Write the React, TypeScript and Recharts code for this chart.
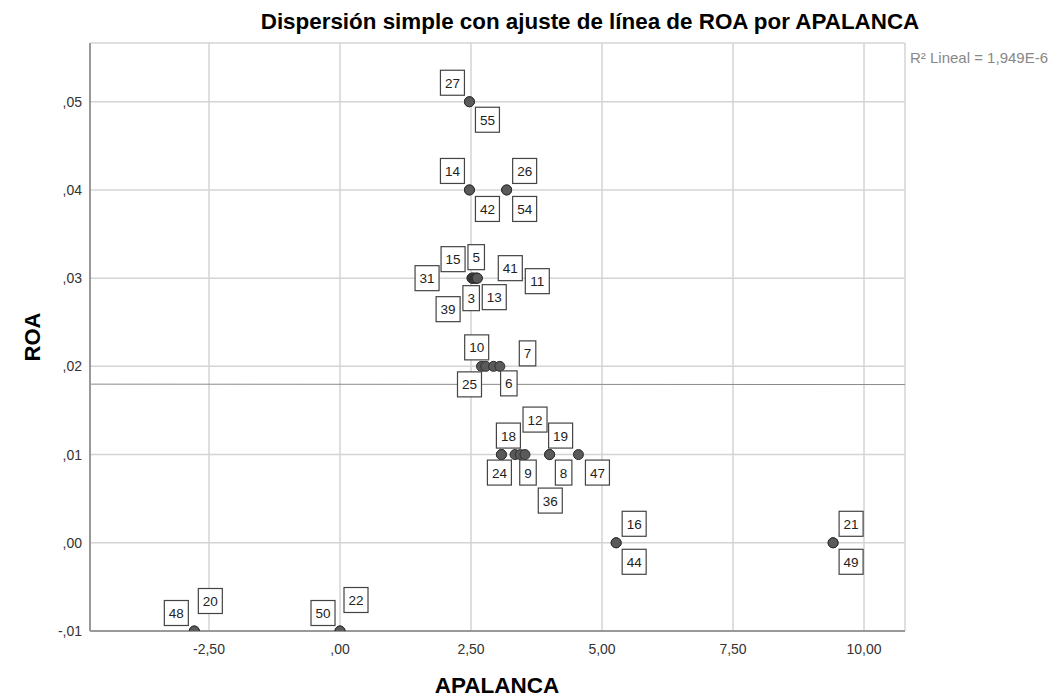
import { ScatterChart, Scatter, XAxis, YAxis, CartesianGrid, ReferenceLine } from 'recharts'

// casos (número de caso SPSS), APALANCA, ROA
const CASE_IDS = [27, 55, 14, 42, 26, 54, 15, 31, 39, 3, 5, 13, 41, 11, 25, 10, 7, 6, 24, 18, 12, 36, 9, 19, 8, 47, 16, 44, 21, 49, 48, 20, 50, 22]
const APALANCA = [2.47, 2.47, 2.47, 2.47, 3.18, 3.18, 2.52, 2.52, 2.54, 2.56, 2.58, 2.6, 2.62, 2.62, 2.7, 2.78, 2.93, 3.05, 3.08, 3.08, 3.34, 3.44, 3.53, 4.0, 4.0, 4.55, 5.27, 5.27, 9.41, 9.41, -2.78, -2.78, 0.0, 0.0]
const ROA = [0.05, 0.05, 0.04, 0.04, 0.04, 0.04, 0.03, 0.03, 0.03, 0.03, 0.03, 0.03, 0.03, 0.03, 0.02, 0.02, 0.02, 0.02, 0.01, 0.01, 0.01, 0.01, 0.01, 0.01, 0.01, 0.01, 0, 0, 0, 0, -0.01, -0.01, -0.01, -0.01]

const X_TICKS = [-2.5, 0, 2.5, 5, 7.5, 10]
const Y_TICKS = [-0.01, 0, 0.01, 0.02, 0.03, 0.04, 0.05]
const X_DOMAIN = [-4.771, 10.782]
const Y_DOMAIN = [-0.01, 0.05666]

// ajuste lineal
const FIT_INTERCEPT = 0.01797
const FIT_SLOPE = -0.000003
const R2_TEXT = 'R² Lineal = 1,949E-6'

// desplazamiento de cada etiqueta respecto a su punto (px)
const LABEL_DX = [-17, 18, -17, 18, 18, 18, -19, -45, -25, -3, 1, 18, 33, 60, -12, -9, 34, 9, -2, 7, 20, 30, 3, 11, 14, 19, 18, 18, 18, 18, -18, 16, -17, 16]
const LABEL_DY = [-19, 18, -19, 19, -19, 19, -19, 0, 31, 20, -21, 19, -10, 3, 18, -19, -13, 17, 18, -19, -35, 46, 18, -19, 18, 18, -19, 19, -19, 19, -18, -30, -18, -31]

const data = CASE_IDS.map((id, i) => ({ id, x: APALANCA[i], y: ROA[i], dx: LABEL_DX[i], dy: LABEL_DY[i] }))

const FONT = 'Arial, "Liberation Sans", sans-serif'

const fmt = (v: number) => v.toFixed(2).replace('.', ',').replace(/^(-?)0,/, '$1,')

const Dot = (props: any) => {
  const { cx, cy } = props
  if (cx == null || cy == null) return null
  return <circle cx={cx} cy={cy} r={5} fill="#5a5a5a" stroke="#2e2e2e" strokeWidth={1} />
}

const CaseLabel = (props: any) => {
  const { cx, cy, payload } = props
  if (cx == null || cy == null) return null
  const txt = String(payload.id)
  const w = txt.length * 7.5 + 9
  const h = 25
  const bx = cx + payload.dx
  const by = cy + payload.dy
  return (
    <g>
      <rect x={bx - w / 2} y={by - h / 2} width={w} height={h} fill="#fff" stroke="#444" strokeWidth={1.2} />
      <text x={bx} y={by + 5} textAnchor="middle" fontSize={13.5} fontFamily={FONT} fill="#222">
        {txt}
      </text>
    </g>
  )
}

export default function App() {
  const fit = (x: number) => FIT_INTERCEPT + FIT_SLOPE * x
  return (
    <div style={{ position: 'absolute', left: 0, top: 0, width: 1053, height: 699, background: '#fff', fontFamily: FONT, overflow: 'hidden' }}>
      <ScatterChart width={1053} height={699} margin={{ top: 43, right: 148, left: 0, bottom: 0 }}>
        <CartesianGrid stroke="#d4d4d4" strokeWidth={1.5} />
        <XAxis
          type="number"
          dataKey="x"
          domain={X_DOMAIN}
          ticks={X_TICKS}
          allowDataOverflow
          tickFormatter={fmt}
          height={68}
          tickLine={false}
          axisLine={{ stroke: '#999', strokeWidth: 2 }}
          tick={{ fontSize: 14, fill: '#333', fontFamily: FONT, dy: 5 }}
        />
        <YAxis
          type="number"
          dataKey="y"
          domain={Y_DOMAIN}
          ticks={Y_TICKS}
          allowDataOverflow
          tickFormatter={fmt}
          width={90}
          tickLine={false}
          axisLine={{ stroke: '#999', strokeWidth: 2 }}
          tick={{ fontSize: 14, fill: '#333', fontFamily: FONT }}
        />
        <ReferenceLine
          segment={[
            { x: X_DOMAIN[0], y: fit(X_DOMAIN[0]) },
            { x: X_DOMAIN[1], y: fit(X_DOMAIN[1]) },
          ]}
          stroke="#8a8a8a"
          strokeWidth={1}
        />
        <Scatter data={data} shape={Dot} isAnimationActive={false} />
        <Scatter data={data} shape={CaseLabel} isAnimationActive={false} />
      </ScatterChart>
      <div style={{ position: 'absolute', left: 590, top: 22, transform: 'translate(-50%, -50%)', fontSize: 22.4, fontWeight: 'bold', whiteSpace: 'nowrap', color: '#000' }}>
        Dispersión simple con ajuste de línea de ROA por APALANCA
      </div>
      <div style={{ position: 'absolute', left: 910, top: 49, fontSize: 15, color: '#888', whiteSpace: 'nowrap' }}>{R2_TEXT}</div>
      <div style={{ position: 'absolute', left: 497, top: 686, transform: 'translate(-50%, -50%)', fontSize: 22.5, lineHeight: 1, fontWeight: 'bold', whiteSpace: 'nowrap' }}>
        APALANCA
      </div>
      <div style={{ position: 'absolute', left: 33, top: 337, transform: 'translate(-50%, -50%) rotate(-90deg)', fontSize: 22, fontWeight: 'bold', whiteSpace: 'nowrap' }}>
        ROA
      </div>
    </div>
  )
}
